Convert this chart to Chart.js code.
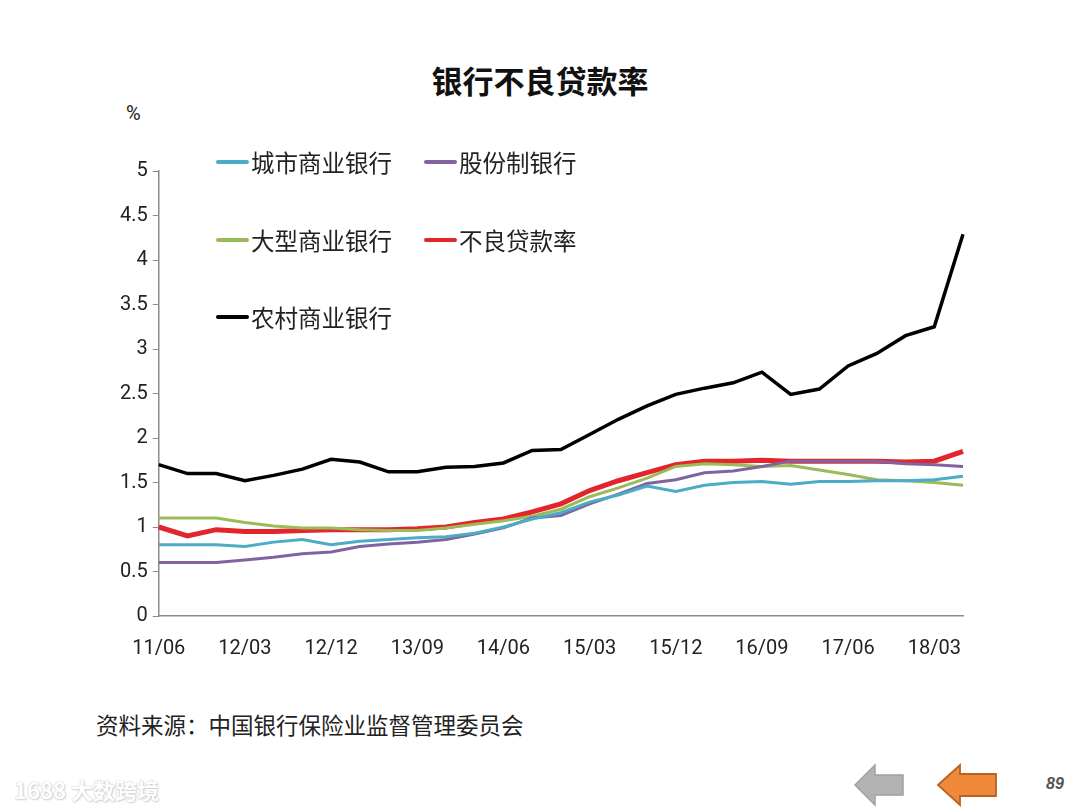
<!DOCTYPE html>
<html>
<head>
<meta charset="utf-8">
<script src="https://cdn.jsdelivr.net/npm/chart.js@4.4.1/dist/chart.umd.min.js"></script>
<style>
  html, body { margin: 0; padding: 0; background: #fff; }
  body { width: 1080px; height: 810px; position: relative; overflow: hidden;
         font-family: "Noto Sans CJK SC", "Noto Sans", sans-serif; }
  #npl-chart { position: absolute; left: 0; top: 0; }
  .title { position: absolute; left: 0; width: 1080px; top: 57px; text-align: center;
           font-size: 31px; font-weight: bold; color: #111; }
  .unit { position: absolute; left: 126px; top: 101px; font-size: 20px; color: #222; font-family: Roboto, sans-serif; }
  .source { position: absolute; left: 96px; top: 708px; font-size: 22.5px; color: #222; }
  .mark { position: absolute; left: 14px; top: 773px; font-size: 22px; color: #fff; font-weight: bold;
          text-shadow: 0 0 1px #c8c8c8, 0 0 1px #c8c8c8, 1px 1px 2px #d0d0d0; }
  .page { position: absolute; left: 1046px; top: 775px; font-size: 16px; color: #555; font-style: italic; font-weight: bold; font-family: "Liberation Sans", sans-serif; }
  svg.arrow { position: absolute; top: 763px; }
</style>
</head>
<body>
<div class="title">银行不良贷款率</div>
<div class="unit">%</div>
<canvas id="npl-chart" width="1080" height="700"></canvas>
<div class="source">资料来源：中国银行保险业监督管理委员会</div>
<div class="mark">1688 大数跨境</div>
<svg class="arrow" style="left:853px" width="52" height="44" viewBox="0 0 52 44">
  <polygon points="2,22 22,2 22,12 50,12 50,32 22,32 22,42" fill="#b3b3b3" stroke="#a0a0a0" stroke-width="1.5"/>
</svg>
<svg class="arrow" style="left:936px" width="62" height="44" viewBox="0 0 62 44">
  <polygon points="2,22 24,2 24,11 60,11 60,33 24,33 24,42" fill="#f0883a" stroke="#b8621f" stroke-width="1.8"/>
</svg>
<div class="page">89</div>

<script>
// quarterly, 2011/06 .. 2018/06
const quarters = [
  '11/06', '11/09', '11/12', '12/03', '12/06', '12/09', '12/12', '13/03', '13/06', '13/09',
  '13/12', '14/03', '14/06', '14/09', '14/12', '15/03', '15/06', '15/09', '15/12', '16/03',
  '16/06', '16/09', '16/12', '17/03', '17/06', '17/09', '17/12', '18/03', '18/06'
];

const cityBanks = [0.80, 0.80, 0.80, 0.78, 0.83, 0.86, 0.80, 0.84, 0.86, 0.88,
                   0.89, 0.93, 1.00, 1.09, 1.16, 1.28, 1.36, 1.46, 1.40, 1.47,
                   1.50, 1.51, 1.48, 1.51, 1.51, 1.52, 1.52, 1.53, 1.57];
const jointStock = [0.60, 0.60, 0.60, 0.63, 0.66, 0.70, 0.72, 0.78, 0.81, 0.83,
                    0.86, 0.92, 0.99, 1.10, 1.13, 1.26, 1.37, 1.49, 1.53, 1.61,
                    1.63, 1.68, 1.74, 1.74, 1.74, 1.74, 1.71, 1.70, 1.68];
const bigBanks = [1.10, 1.10, 1.10, 1.05, 1.01, 0.99, 0.99, 0.97, 0.96, 0.96,
                  0.99, 1.03, 1.07, 1.12, 1.20, 1.34, 1.44, 1.55, 1.68, 1.71,
                  1.70, 1.68, 1.69, 1.64, 1.59, 1.53, 1.52, 1.50, 1.47];
const nplRatio = [1.00, 0.90, 0.97, 0.95, 0.95, 0.96, 0.97, 0.97, 0.97, 0.98,
                  1.00, 1.05, 1.09, 1.17, 1.26, 1.41, 1.52, 1.61, 1.70, 1.74,
                  1.74, 1.75, 1.74, 1.74, 1.74, 1.74, 1.73, 1.74, 1.85];
const ruralBanks = [1.70, 1.60, 1.60, 1.52, 1.58, 1.65, 1.76, 1.73, 1.62, 1.62,
                    1.67, 1.68, 1.72, 1.86, 1.87, 2.04, 2.21, 2.36, 2.49, 2.56,
                    2.62, 2.74, 2.49, 2.55, 2.81, 2.95, 3.15, 3.25, 4.29];

const yTicks = [0, 0.5, 1, 1.5, 2, 2.5, 3, 3.5, 4, 4.5, 5];

// legend drawn inside the plot, three rows like the original
const insideLegend = {
  id: 'insideLegend',
  afterDraw(chart) {
    const c = chart.ctx;
    const slots = [
      { ds: 0, x: 218, y: 162 }, { ds: 1, x: 426, y: 162 },
      { ds: 2, x: 218, y: 240 }, { ds: 3, x: 426, y: 240 },
      { ds: 4, x: 218, y: 317 }
    ];
    c.save();
    c.font = '23.5px "Noto Sans CJK SC", sans-serif';
    c.textBaseline = 'middle';
    slots.forEach(s => {
      const d = chart.data.datasets[s.ds];
      c.strokeStyle = d.borderColor;
      c.lineWidth = 4;
      c.lineCap = 'round';
      c.beginPath();
      c.moveTo(s.x, s.y);
      c.lineTo(s.x + 29, s.y);
      c.stroke();
      c.fillStyle = '#222';
      c.fillText(d.label, s.x + 33, s.y + 1);
    });
    c.restore();
  }
};

const mk = (label, data, color, width) => ({
  label, data, borderColor: color, backgroundColor: color,
  borderWidth: width, pointRadius: 0, tension: 0, fill: false
});

new Chart(document.getElementById('npl-chart'), {
  type: 'line',
  data: {
    labels: quarters,
    datasets: [
      mk('城市商业银行', cityBanks, '#4bacc6', 3),
      mk('股份制银行', jointStock, '#8064a2', 3),
      mk('大型商业银行', bigBanks, '#9bbb59', 3),
      mk('不良贷款率', nplRatio, '#e3262b', 5),
      mk('农村商业银行', ruralBanks, '#000000', 3.5)
    ]
  },
  options: {
    responsive: false,
    animation: false,
    layout: { padding: { left: 115, right: 117, top: 171, bottom: 18 } },
    plugins: { legend: { display: false }, tooltip: { enabled: false } },
    scales: {
      x: {
        offset: false,
        grid: { display: false, drawTicks: false },
        border: { color: '#8c8c8c', width: 1.5 },
        ticks: {
          autoSkip: false, maxRotation: 0, padding: 21,
          color: '#222', font: { family: 'Roboto', size: 20 },
          callback: (v, i) => i % 3 === 0 ? quarters[i] : ''
        }
      },
      y: {
        min: 0, max: 5,
        afterBuildTicks: axis => { axis.ticks = yTicks.map(v => ({ value: v })); },
        grid: { drawOnChartArea: false, drawTicks: true, tickLength: 6, color: '#8c8c8c' },
        border: { color: '#8c8c8c', width: 1.5 },
        ticks: { padding: 5, color: '#222', font: { family: 'Roboto', size: 20 },
                 callback: v => String(v) }
      }
    }
  },
  plugins: [insideLegend]
});
</script>
</body>
</html>
